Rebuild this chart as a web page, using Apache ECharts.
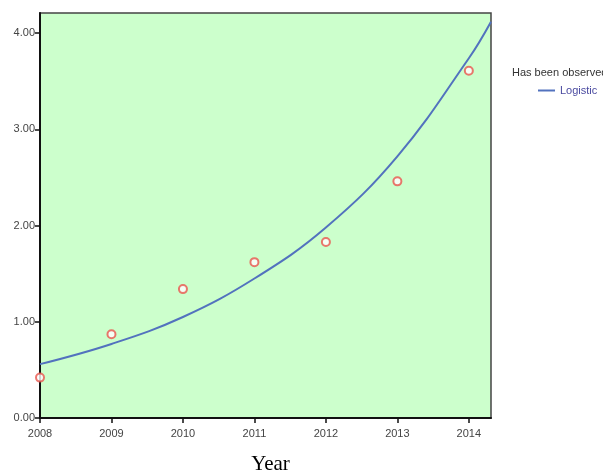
<!DOCTYPE html>
<html>
<head>
<meta charset="utf-8">
<script src="https://cdn.jsdelivr.net/npm/echarts@6/dist/echarts.min.js"></script>
<style>
  html, body { margin: 0; padding: 0; background: #fff; }
  #chart { width: 603px; height: 476px; }
</style>
</head>
<body>
<div id="chart"></div>
<script>
// Observed values per year
const years = [2008, 2009, 2010, 2011, 2012, 2013, 2014];
const observed = [0.42, 0.87, 1.34, 1.62, 1.83, 2.46, 3.61];

// Logistic fit curve, sampled along the year axis
const fitYears = [2008, 2009, 2010, 2011, 2012, 2013, 2014, 2014.31];
const fitValues = [0.56, 0.77, 1.05, 1.45, 1.98, 2.72, 3.74, 4.12];

const yTicks = [0, 1, 2, 3, 4];

const chart = echarts.init(document.getElementById('chart'));
chart.setOption({
  animation: false,
  backgroundColor: '#ffffff',
  grid: {
    left: 40, top: 13, right: 112, bottom: 58,
    outerBoundsMode: 'none',
    containLabel: false,
    show: true,
    backgroundColor: '#ccffcc',
    borderColor: '#444444',
    borderWidth: 1.5
  },
  legend: {
    data: ['Logistic'],
    left: 533, top: 80,
    icon: 'rect',
    itemWidth: 17, itemHeight: 2,
    itemGap: 4,
    textStyle: { color: '#4a4aa0', fontSize: 11, fontFamily: 'Liberation Sans, Arial, sans-serif' }
  },
  graphic: [
    {
      type: 'text', left: 512, top: 67,
      style: { text: 'Has been observed', fill: '#333333', fontSize: 11, fontFamily: 'Liberation Sans, Arial, sans-serif' }
    }
  ],
  xAxis: {
    type: 'value',
    min: 2008, max: 2014.31, interval: 1,
    name: 'Year',
    nameLocation: 'middle',
    nameGap: 36,
    nameTextStyle: { fontFamily: 'Liberation Serif, Times New Roman, serif', fontSize: 21, color: '#000', padding: [0, 0, 0, 10] },
    splitLine: { show: false },
    axisLine: { show: true, onZero: false, lineStyle: { color: '#111', width: 2 } },
    axisTick: { show: true, length: 5, lineStyle: { color: '#111', width: 1.5 } },
    axisLabel: {
      showMaxLabel: false,
      margin: 10,
      color: '#444', fontSize: 11, fontFamily: 'Liberation Sans, Arial, sans-serif',
      formatter: v => years.includes(v) ? String(v) : ''
    }
  },
  yAxis: {
    type: 'value',
    min: 0, max: 4.21, interval: 1,
    splitLine: { show: false },
    axisLine: { show: true, onZero: false, lineStyle: { color: '#111', width: 2 } },
    axisTick: { show: true, length: 5, lineStyle: { color: '#111', width: 1.5 } },
    axisLabel: {
      showMaxLabel: false,
      margin: 5,
      color: '#444', fontSize: 11, fontFamily: 'Liberation Sans, Arial, sans-serif',
      formatter: v => yTicks.includes(v) ? v.toFixed(2) : ''
    }
  },
  series: [
    {
      name: 'Logistic',
      type: 'line',
      data: fitYears.map((x, i) => [x, fitValues[i]]),
      smooth: 0.4,
      showSymbol: false,
      clip: true,
      lineStyle: { color: '#5272be', width: 2 },
      itemStyle: { color: '#5272be' },
      z: 2
    },
    {
      name: 'Has been observed',
      type: 'scatter',
      data: years.map((x, i) => [x, observed[i]]),
      symbol: 'emptyCircle',
      symbolSize: 8,
      clip: false,
      itemStyle: { color: '#e8554c', borderColor: '#e8554c', borderWidth: 2 },
      z: 3
    }
  ]
});
</script>
</body>
</html>
